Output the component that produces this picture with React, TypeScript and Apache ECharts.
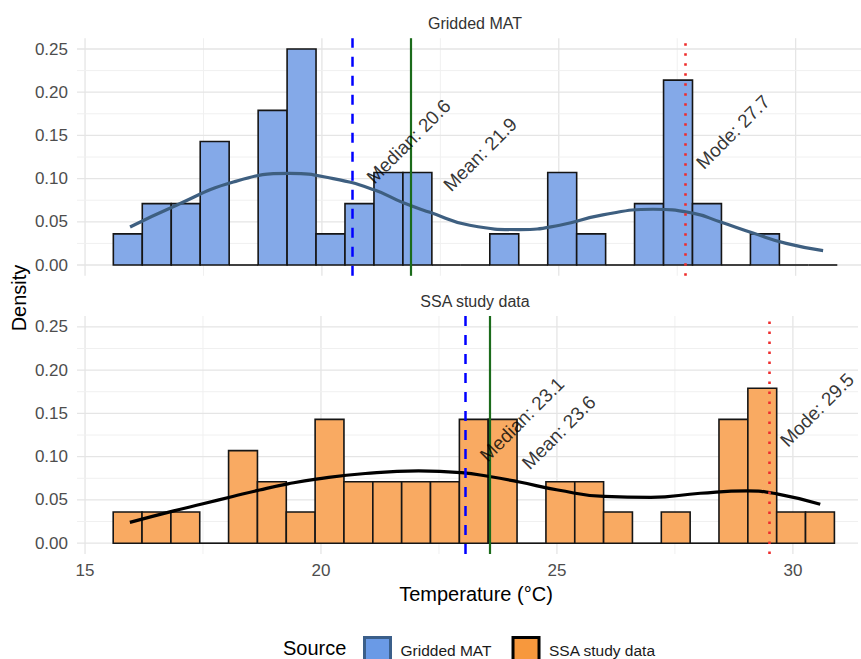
import React, { useEffect, useRef } from 'react';
import * as echarts from 'echarts';

// ---------------- data ----------------
const binEdges = [15.597, 16.208, 16.82, 17.431, 18.042, 18.654, 19.265, 19.876, 20.487, 21.099, 21.71, 22.321, 22.933, 23.544, 24.155, 24.767, 25.378, 25.989, 26.6, 27.212, 27.823, 28.434, 29.046, 29.657, 30.268, 30.88];

const griddedDensity = [0.036, 0.071, 0.071, 0.143, 0, 0.179, 0.25, 0.036, 0.071, 0.107, 0.107, 0, 0, 0.036, 0, 0.107, 0.036, 0, 0.071, 0.214, 0.071, 0, 0.036, 0, 0];
const ssaDensity = [0.036, 0.036, 0.036, 0, 0.107, 0.071, 0.036, 0.143, 0.071, 0.071, 0.071, 0.071, 0.143, 0.143, 0, 0.071, 0.071, 0.036, 0, 0.036, 0, 0.143, 0.179, 0.036, 0.036];

const griddedKdeX = [15.95, 16.86, 18.13, 19.32, 20.24, 21.1, 21.72, 22.28, 23.12, 24.18, 25.02, 25.93, 26.99, 27.83, 28.4, 29.1, 29.8, 30.58];
const griddedKdeY = [0.044, 0.0675, 0.096, 0.106, 0.1, 0.087, 0.072, 0.061, 0.046, 0.041, 0.046, 0.058, 0.0645, 0.06, 0.05, 0.037, 0.025, 0.0166];

const ssaKdeX = [15.95, 16.86, 17.5, 18.13, 18.7, 19.3, 19.9, 20.94, 22.07, 22.98, 23.57, 24.18, 25.02, 26.0, 26.99, 28.04, 29.03, 29.66, 30.58];
const ssaKdeY = [0.024, 0.037, 0.0455, 0.054, 0.0615, 0.0685, 0.074, 0.0805, 0.0835, 0.0815, 0.077, 0.071, 0.0615, 0.054, 0.053, 0.0577, 0.0604, 0.057, 0.045];

const statNames = ['Median', 'Mean', 'Mode'];
const griddedStats = [20.63, 21.88, 27.66];
const ssaStats = [23.06, 23.58, 29.49];

const panelNames = ['Gridded MAT', 'SSA study data'];
const xTicks = [15, 20, 25, 30];
const xMinorTicks = [17.5, 22.5, 27.5];
const yTicks = [0, 0.05, 0.1, 0.15, 0.2, 0.25];
const yMinorTicks = [0.025, 0.075, 0.125, 0.175, 0.225];

// ---------------- layout / style ----------------
const X_MIN = 14.83;
const X_MAX = 31.38; // panel is cropped at the right edge of the picture
const Y_MIN = -0.0125;
const Y_MAX = 0.2625;
const labelDx = [1.2, 1.46, 1.02];
const labelDy = [0.143, 0.128, 0.154];
const statStyles = [
  { color: '#0000FF', type: [10, 9], width: 2.5 },
  { color: '#1B6B1B', type: 'solid', width: 2.2 },
  { color: '#EE2C2C', type: [2.5, 7.5], width: 2.6 },
];
const FONT = '"Liberation Sans", Arial, Helvetica, sans-serif';
const BAR_EDGE = '#151515';

const near = (arr: number[], v: number) => arr.some((t) => Math.abs(t - v) < 1e-9);

function gridSeries(idx: number) {
  const data: number[][] = [
    ...xTicks.map((v) => [v, 0, 1]),
    ...xMinorTicks.map((v) => [v, 0, 0]),
    ...yTicks.map((v) => [v, 1, 1]),
    ...yMinorTicks.map((v) => [v, 1, 0]),
  ];
  return {
    type: 'custom',
    name: 'grid' + idx,
    xAxisIndex: idx,
    yAxisIndex: idx,
    z: 0,
    silent: true,
    data,
    encode: { x: -1, y: -1 },
    renderItem: (params: any, api: any) => {
      const v = api.value(0);
      const orient = api.value(1);
      const major = api.value(2);
      const cs = params.coordSys;
      const style = { stroke: major ? '#E5E5E5' : '#F0F0F0', lineWidth: major ? 1.3 : 1 };
      if (orient === 0) {
        const px = api.coord([v, 0])[0];
        return { type: 'line', shape: { x1: px, y1: cs.y, x2: px, y2: cs.y + cs.height }, style };
      }
      const py = api.coord([X_MIN, v])[1];
      return { type: 'line', shape: { x1: cs.x, y1: py, x2: cs.x + cs.width, y2: py }, style };
    },
  };
}

function histSeries(idx: number, name: string, dens: number[], fill: string) {
  return {
    type: 'custom',
    name,
    xAxisIndex: idx,
    yAxisIndex: idx,
    z: 2,
    data: dens.map((d, i) => [binEdges[i], binEdges[i + 1], d]),
    encode: { x: [0, 1], y: 2 },
    renderItem: (params: any, api: any) => {
      const d = api.value(2);
      const a = api.coord([api.value(0), d]);
      const b = api.coord([api.value(1), 0]);
      if (d === 0) {
        return { type: 'line', shape: { x1: a[0], y1: b[1], x2: b[0], y2: b[1] }, style: { stroke: BAR_EDGE, lineWidth: 1.6 } };
      }
      return {
        type: 'rect',
        shape: { x: a[0], y: a[1], width: b[0] - a[0], height: b[1] - a[1] },
        style: { fill, stroke: BAR_EDGE, lineWidth: 1.6 },
      };
    },
  };
}

function kdeSeries(idx: number, xs: number[], ys: number[], color: string, stats: number[]) {
  return {
    type: 'line',
    name: 'kde' + idx,
    xAxisIndex: idx,
    yAxisIndex: idx,
    z: 3,
    smooth: 0.5,
    showSymbol: false,
    symbol: 'none',
    silent: true,
    lineStyle: { color, width: 3.2 },
    data: xs.map((x, i) => [x, ys[i]]),
    markLine: {
      silent: true,
      symbol: ['none', 'none'],
      label: { show: false },
      data: stats.map((s, i) => ({ xAxis: s, lineStyle: statStyles[i] })),
    },
  };
}

function labelSeries(idx: number, stats: number[]) {
  return {
    type: 'scatter',
    name: 'labels' + idx,
    xAxisIndex: idx,
    yAxisIndex: idx,
    z: 6,
    silent: true,
    symbolSize: 0,
    data: stats.map((s, i) => ({
      value: [s + labelDx[i], labelDy[i]],
      label: { formatter: statNames[i] + ': ' + s.toFixed(1) },
    })),
    label: {
      show: true,
      position: 'inside',
      rotate: 45,
      fontSize: 19,
      fontFamily: FONT,
      color: '#000000',
      textBorderWidth: 0,
      textBorderColor: 'transparent',
      align: 'center',
      verticalAlign: 'middle',
    },
  };
}

export default function App() {
  const ref = useRef<HTMLDivElement>(null);
  useEffect(() => {
    if (!ref.current) return;
    const chart = echarts.init(ref.current, undefined, { renderer: 'svg' });
    const gridLeft = 77;
    const axisBase = (idx: number, showLabel: boolean) => ({
      type: 'value',
      gridIndex: idx,
      min: X_MIN,
      max: X_MAX,
      splitNumber: 3,
      axisLine: { show: false },
      axisTick: { show: false },
      splitLine: { show: false },
      axisLabel: {
        show: showLabel,
        color: '#4D4D4D',
        fontSize: 17,
        fontFamily: FONT,
        margin: 8,
        formatter: (v: number) => (near(xTicks, v) ? String(v) : ''),
      },
    });
    const yBase = (idx: number) => ({
      type: 'value',
      gridIndex: idx,
      min: Y_MIN,
      max: Y_MAX,
      splitNumber: 5,
      axisLine: { show: false },
      axisTick: { show: false },
      splitLine: { show: false },
      axisLabel: {
        color: '#4D4D4D',
        fontSize: 17,
        fontFamily: FONT,
        margin: 9,
        formatter: (v: number) => (near(yTicks, v) ? v.toFixed(2) : ''),
      },
    });
    chart.setOption({
      animation: false,
      backgroundColor: '#ffffff',
      textStyle: { fontFamily: FONT },
      grid: [
        { left: gridLeft, right: 0, top: 38.2, height: 237.6 },
        { left: gridLeft, right: 0, top: 316, height: 238 },
      ],
      xAxis: [axisBase(0, false), axisBase(1, true)],
      yAxis: [yBase(0), yBase(1)],
      legend: {
        left: 363,
        top: 636,
        padding: 0,
        itemWidth: 26,
        itemHeight: 26,
        itemGap: 20,
        selectedMode: false,
        textStyle: { fontSize: 15.5, color: '#1a1a1a', fontFamily: FONT, padding: [0, 0, 0, 5] },
        data: [
          { name: panelNames[0], icon: 'rect', itemStyle: { color: '#6A9AE6', borderColor: '#3B5F8A', borderWidth: 3 } },
          { name: panelNames[1], icon: 'rect', itemStyle: { color: '#F7983D', borderColor: '#000000', borderWidth: 3 } },
        ],
      },
      graphic: [
        { type: 'text', x: 475, y: 23, style: { text: panelNames[0], align: 'center', verticalAlign: 'middle', fontSize: 16, fill: '#333333', fontFamily: FONT } },
        { type: 'text', x: 475, y: 301.5, style: { text: panelNames[1], align: 'center', verticalAlign: 'middle', fontSize: 16, fill: '#333333', fontFamily: FONT } },
        { type: 'text', x: 476, y: 594, style: { text: 'Temperature (°C)', align: 'center', verticalAlign: 'middle', fontSize: 20, fill: '#000000', fontFamily: FONT } },
        { type: 'text', x: 19, y: 298, rotation: Math.PI / 2, style: { text: 'Density', align: 'center', verticalAlign: 'middle', fontSize: 20, fill: '#000000', fontFamily: FONT } },
        { type: 'text', x: 283, y: 648, style: { text: 'Source', align: 'left', verticalAlign: 'middle', fontSize: 20, fill: '#000000', fontFamily: FONT } },
      ],
      series: [
        gridSeries(0),
        gridSeries(1),
        histSeries(0, panelNames[0], griddedDensity, '#84A9E8'),
        histSeries(1, panelNames[1], ssaDensity, '#F9AA62'),
        kdeSeries(0, griddedKdeX, griddedKdeY, '#3E5F80', griddedStats),
        kdeSeries(1, ssaKdeX, ssaKdeY, '#000000', ssaStats),
        labelSeries(0, griddedStats),
        labelSeries(1, ssaStats),
      ],
    });
    return () => chart.dispose();
  }, []);
  return <div ref={ref} style={{ position: 'absolute', left: 0, top: 0, width: 861, height: 659 }} />;
}
